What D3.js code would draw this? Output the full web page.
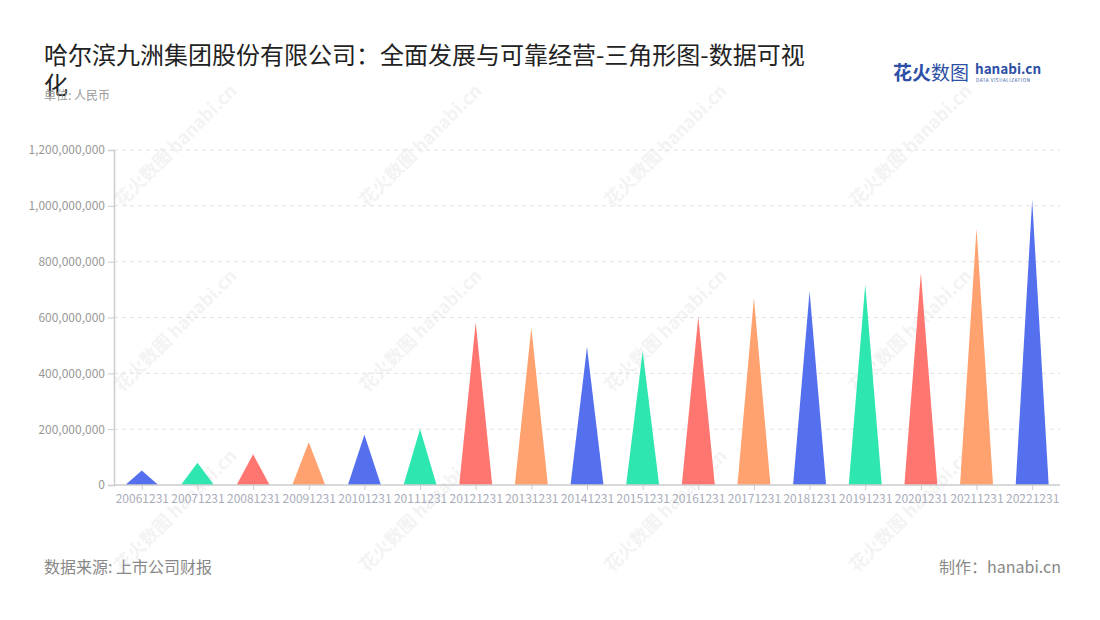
<!DOCTYPE html>
<html><head><meta charset="utf-8">
<script src="https://cdn.jsdelivr.net/npm/d3@7"></script>
<style>body{margin:0;background:#fff;font-family:"Noto Sans CJK SC","Noto Sans",sans-serif;}</style>
</head><body>
<svg id="c" width="1100" height="620"></svg>
<script>
const categories = ["20061231","20071231","20081231","20091231","20101231","20111231","20121231","20131231","20141231","20151231","20161231","20171231","20181231","20191231","20201231","20211231","20221231"];
const values = [52e6,80e6,110e6,153e6,180e6,201e6,582e6,564e6,494e6,479e6,603e6,670e6,694e6,718e6,759e6,920e6,1021e6];
const yTicks = [0,200e6,400e6,600e6,800e6,1000e6,1200e6];
const palette = ["#5570EE","#2EE6B0","#FF7570","#FFA26F"];
const titleLines = ["哈尔滨九洲集团股份有限公司：全面发展与可靠经营-三角形图-数据可视","化"];

const svg = d3.select("#c");
const F = '"Noto Sans CJK SC","Noto Sans",sans-serif';
const m = {l:114, r:1060, t:150, b:485};

// watermarks
const wmX = [150,395,640,885], wmY = [150,335,515];
wmY.forEach(y=>wmX.forEach(x=>{
  const g = svg.append("g").attr("transform",`translate(${x+30},${y})rotate(-45)`).attr("opacity",0.045);
  g.append("text").attr("x",0).attr("y",0).attr("text-anchor","middle").attr("font-family",F)
   .attr("font-size",18).attr("font-weight","bold").attr("fill","#000").text("花火数图 hanabi.cn");
}));

const x = d3.scaleBand().domain(categories).range([m.l, m.r]).paddingInner(0.4).paddingOuter(0.2);
const xc = d3.scalePoint().domain(categories).range([m.l, m.r]).padding(0.5);
const y = d3.scaleLinear().domain([0,1200e6]).range([m.b, m.t]);

// grid
svg.append("g").selectAll("line").data(yTicks.slice(1)).join("line")
  .attr("x1",m.l).attr("x2",m.r).attr("y1",d=>y(d)).attr("y2",d=>y(d))
  .attr("stroke","#e0e0e0").attr("stroke-dasharray","4,4");

// y axis
const ya = svg.append("g").attr("transform",`translate(${m.l},0)`)
  .call(d3.axisLeft(y).tickValues(yTicks).tickFormat(d3.format(",")).tickSize(6).tickPadding(3));
ya.select(".domain").attr("stroke","#ccc").attr("stroke-width",1.5);
ya.selectAll(".tick line").attr("stroke","#ccc");
ya.selectAll("text").attr("fill","#999").attr("font-size",12).attr("font-family",F);

// bars (triangles)
const bw = 33;
svg.append("g").selectAll("path").data(values).join("path")
  .attr("d",(d,i)=>{const cx=xc(categories[i]);return `M${cx-bw/2},${y(0)}L${cx},${y(d)}L${cx+bw/2},${y(0)}Z`;})
  .attr("fill",(d,i)=>palette[i%4]);

// x axis
const xa = svg.append("g").attr("transform",`translate(0,${m.b})`)
  .call(d3.axisBottom(xc).tickSize(5).tickPadding(4).tickSizeOuter(0));
xa.select(".domain").attr("stroke","#ccc").attr("stroke-width",1.5).attr("d",`M${m.l},0H${m.r}`);
xa.selectAll(".tick line").attr("stroke","#ccc");
xa.selectAll("text").attr("fill","#a9adba").attr("font-size",12).attr("font-family",F);

// title
svg.append("text").attr("x",44).attr("y",64).attr("font-family",F).attr("font-size",24).attr("fill","#222").text(titleLines[0]);
svg.append("text").attr("x",44).attr("y",94).attr("font-family",F).attr("font-size",24).attr("fill","#222").text(titleLines[1]);
svg.append("text").attr("x",44).attr("y",100).attr("font-family",F).attr("font-size",12).attr("fill","#999").text("单位: 人民币");

// logo
svg.append("text").attr("x",893).attr("y",80).attr("font-family",F).attr("font-size",19).attr("font-weight","bold").attr("fill","#2d4fa5").text("花火");
svg.append("text").attr("x",931).attr("y",80).attr("font-family",F).attr("font-size",19).attr("fill","#2d4fa5").text("数图");
svg.append("text").attr("x",975).attr("y",74).attr("font-family",F).attr("font-size",13.5).attr("font-weight","bold").attr("fill","#2d4fa5").text("hanabi.cn");
svg.append("text").attr("x",976).attr("y",82).attr("font-family",F).attr("font-size",4.5).attr("fill","#2d4fa5").attr("letter-spacing",0.6).text("DATA VISUALIZATION");

// footer
svg.append("text").attr("x",44).attr("y",573).attr("font-family",F).attr("font-size",16).attr("fill","#888").text("数据来源: 上市公司财报");
svg.append("text").attr("x",1061).attr("y",573).attr("text-anchor","end").attr("font-family",F).attr("font-size",16).attr("fill","#888").text("制作：hanabi.cn");
</script>
</body></html>
